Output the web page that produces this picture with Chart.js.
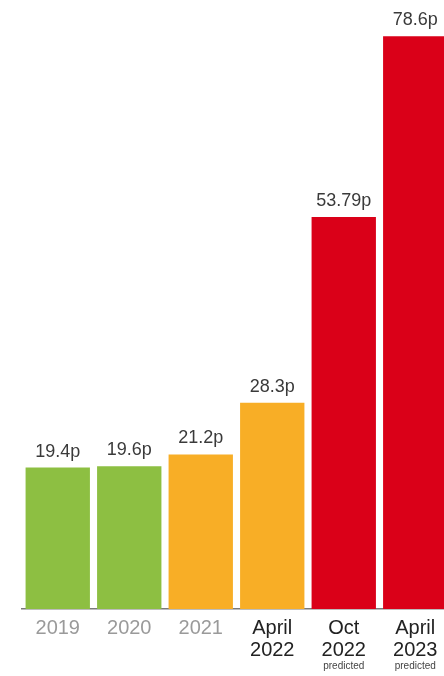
<!DOCTYPE html>
<html>
<head>
<meta charset="utf-8">
<script src="https://cdn.jsdelivr.net/npm/chart.js@4/dist/chart.umd.min.js"></script>
<style>
  html, body { margin: 0; padding: 0; background: #fff; overflow: hidden; width: 444px; height: 676px; }
  #wrap { width: 452px; height: 676px; position: relative; }
</style>
</head>
<body>
<div id="wrap"><canvas id="priceChart"></canvas></div>
<script>
// ---- data ----
const periods = [["2019"], ["2020"], ["2021"], ["April", "2022"], ["Oct", "2022"], ["April", "2023"]];
const notes = ["", "", "", "", "predicted", "predicted"];
const prices = [19.4, 19.6, 21.2, 28.3, 53.79, 78.6];
const barColors = ["#8dbf42", "#8dbf42", "#f8ae26", "#f8ae26", "#da0018", "#da0018"];
const tickColors = ["#9a9a9a", "#9a9a9a", "#9a9a9a", "#222", "#222", "#222"];

const FONT = "'Liberation Sans', Arial, Helvetica, sans-serif";

// value labels above bars + the small "predicted" notes under the ticks
const labelPlugin = {
  id: "labelPlugin",
  afterDatasetsDraw(chart) {
    const ctx = chart.ctx;
    const meta = chart.getDatasetMeta(0);
    ctx.save();
    ctx.textAlign = "center";
    ctx.textBaseline = "bottom";
    ctx.fillStyle = "#3a3a3a";
    ctx.font = "18px " + FONT;
    meta.data.forEach((bar, i) => {
      ctx.fillText(prices[i] + "p", bar.x, bar.y - 7);
    });
    ctx.font = "10px " + FONT;
    ctx.fillStyle = "#444";
    ctx.textBaseline = "middle";
    const xs = chart.scales.x;
    notes.forEach((n, i) => {
      if (n) ctx.fillText(n, xs.getPixelForValue(i), 666);
    });
    ctx.restore();
  }
};

new Chart(document.getElementById("priceChart"), {
  type: "bar",
  data: {
    labels: periods,
    datasets: [{
      data: prices,
      backgroundColor: barColors,
      borderWidth: 0,
      categoryPercentage: 1,
      barPercentage: 0.9
    }]
  },
  options: {
    responsive: true,
    maintainAspectRatio: false,
    animation: false,
    layout: { padding: { top: 26, left: 22, right: 1, bottom: 15 } },
    plugins: {
      legend: { display: false },
      tooltip: { enabled: false }
    },
    scales: {
      x: {
        grid: { display: false },
        border: { display: true, color: "#7a7a7a", width: 1.5 },
        ticks: {
          padding: 0,
          color: ctx => tickColors[ctx.index],
          font: { family: FONT, size: 20, lineHeight: 1.1 }
        }
      },
      y: {
        display: false,
        min: 0,
        max: 80
      }
    }
  },
  plugins: [labelPlugin]
});
</script>
</body>
</html>
